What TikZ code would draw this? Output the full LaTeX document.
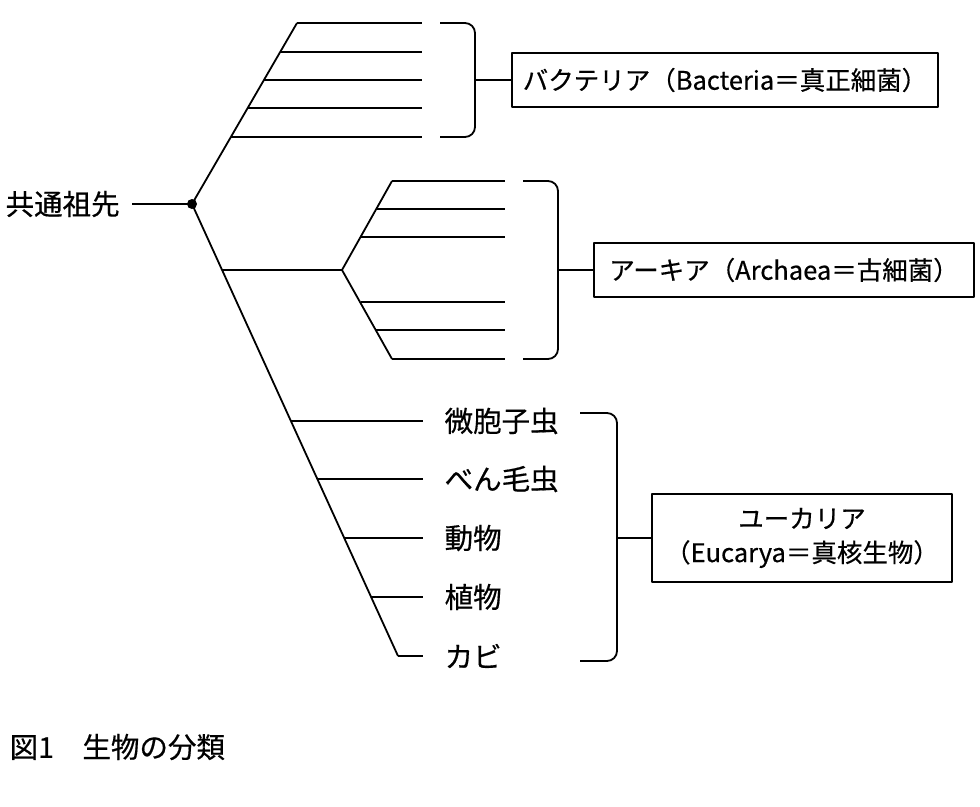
\documentclass[tikz,border=0pt]{standalone}
\usepackage{fontspec}
\setmainfont{Noto Sans CJK JP}
\newfontfamily\jpfont[FakeBold=0.5]{Noto Sans CJK JP}
\usetikzlibrary{positioning}

\begin{document}
\begin{tikzpicture}[x=1pt,y=1pt,yscale=-1,line width=1.8pt,line join=round,
	lbl/.style={anchor=west,inner sep=0.75pt,font=\jpfont\fontsize{28.5}{30}\selectfont},
	grpbox/.style={draw,line width=1.5pt,inner sep=0pt,align=center,font=\jpfont\fontsize{25.5}{34}\selectfont},
	brack/.style={rounded corners=10pt}]
	\useasboundingbox (0,0) rectangle (980,806);
	
	% root
	\coordinate (root) at (192,204);
	\fill (root) circle (5);
	\node[lbl] (anc) at (4,204) {共通祖先};
	\draw ([xshift=11]anc.east) -- (root);
	
	%Bacteria
	\coordinate (btop) at (297,23);
	\draw (root) -- (btop);
	\foreach \y/\x in {23/297,52/280.2,80/264,108/247.7,137/230.9}{
		\draw (\x,\y) -- (422,\y);
	}
	\draw[brack] (440,23) -- (475,23) -- (475,137) -- (440,137);
	\coordinate (bmid) at (475,80);
	\node[grpbox,minimum width=426,minimum height=54] (bact) at (725,80) {バクテリア（Bacteria＝真正細菌）};
	\draw (bmid) -- (bact.west);
	
	%Eucarya stem
	\coordinate (ebot) at (398,656);
	\draw (root) -- (ebot);
	
	%Archaea
	\coordinate (ajoin) at (342,270);
	\draw (222,270) -- (ajoin);
	\draw (392,181) -- (ajoin) -- (392,359);
	\foreach \y/\x in {181/392,209/376.3,237/360.5,302/360.5,330/376.3,359/392}{
		\draw (\x,\y) -- (505,\y);
	}
	\draw[brack] (523,181) -- (558,181) -- (558,359) -- (523,359);
	\coordinate (amid) at (558,270);
	\node[grpbox,minimum width=380,minimum height=54] (arch) at (784,270) {アーキア（Archaea＝古細菌）};
	\draw (amid) -- (arch.west);
	
	%Eucarya
	\foreach \y/\x/\t [count=\i] in {421/290.9/微胞子虫,479/317.3/べん毛虫,538/344.2/動物,597/371.1/植物,656/398/カビ}{
		\node[lbl] (eu\i) at (443,\y) {\t};
		\draw (\x,\y) -- ([xshift=-20]eu\i.west);
	}
	\draw[brack] (580,413) -- (617,413) -- (617,661) -- (580,661);
	\coordinate (emid) at (617,538);
	\node[grpbox,minimum width=300,minimum height=88] (euc) at (802,538) {ユーカリア\\（Eucarya＝真核生物）};
	\draw (emid) -- (euc.west);
	
	% caption
	\node[lbl] (cap) at (8,747) {図1　生物の分類};
	
\end{tikzpicture}
\end{document}
